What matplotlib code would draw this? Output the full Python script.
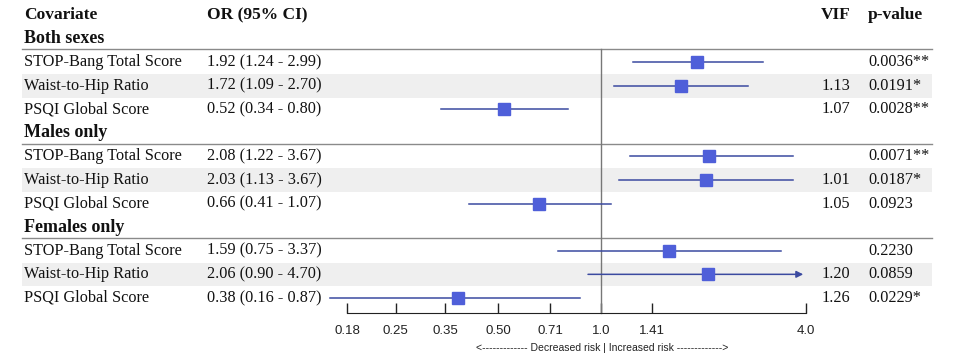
import numpy as np
import matplotlib
matplotlib.use('Agg')
from matplotlib import pyplot as plt
from matplotlib.transforms import blended_transform_factory

groups = ['Both sexes', 'Males only', 'Females only']
covariates = ['STOP-Bang Total Score', 'Waist-to-Hip Ratio', 'PSQI Global Score']
odds = [1.92, 1.72, 0.52, 2.08, 2.03, 0.66, 1.59, 2.06, 0.38]
lower = [1.24, 1.09, 0.34, 1.22, 1.13, 0.41, 0.75, 0.90, 0.16]
upper = [2.99, 2.70, 0.80, 3.67, 3.67, 1.07, 3.37, 4.70, 0.87]
vif = ['', '1.13', '1.07', '', '1.01', '1.05', '', '1.20', '1.26']
pvals = ['0.0036**', '0.0191*', '0.0028**', '0.0071**', '0.0187*', '0.0923',
         '0.2230', '0.0859', '0.0229*']
ticks = [0.18, 0.25, 0.35, 0.50, 0.71, 1.0, 1.41, 4.0]
tick_labels = ['0.18', '0.25', '0.35', '0.50', '0.71', '1.0', '1.41', '4.0']

W, H = 956, 355
fig = plt.figure(figsize=(W / 100, H / 100), dpi=100)
# axes spans the 0.18..4.0 part of the x axis, bottom spine is the axis line
x0, x1 = 347, 806
ax = fig.add_axes([x0 / W, 42 / H, (x1 - x0) / W, 313 / H])
ax.set_xscale('log')
ax.set_xlim(0.18, 4.0)
ax.set_ylim(12.64, -0.636)
for s in ['top', 'left', 'right']:
    ax.spines[s].set_visible(False)
ax.spines['bottom'].set_color('#222222')
ax.set_yticks([])
ax.set_xticks(ticks)
ax.set_xticklabels(tick_labels)
ax.xaxis.set_minor_locator(matplotlib.ticker.NullLocator())
ax.tick_params(axis='x', direction='in', length=7, width=1, pad=9,
               labelsize=9.5, colors='#222222')
for t in ax.get_xticklabels():
    t.set_family('Liberation Sans')
ax.patch.set_alpha(0)

serif = 'Liberation Serif'
tc = '#111111'
tr = blended_transform_factory(fig.transFigure, ax.transData)
fx = lambda px: px / W
band_l, band_r = (22 - x0) / (x1 - x0), (932 - x0) / (x1 - x0)

# header
ax.text(fx(24), 0, 'Covariate', transform=tr, family=serif, weight='bold',
        fontsize=12.5, va='center', color=tc)
ax.text(fx(207), 0, 'OR (95% CI)', transform=tr, family=serif, weight='bold',
        fontsize=12.5, va='center', color=tc)
ax.text(fx(851), 0, 'VIF', transform=tr, family=serif, weight='bold',
        fontsize=12.5, va='center', ha='right', color=tc)
ax.text(fx(868), 0, 'p-value', transform=tr, family=serif, weight='bold',
        fontsize=12.5, va='center', color=tc)

i = 0
for g, grp in enumerate(groups):
    gy = 1 + g * 4
    ax.text(fx(24), gy, grp, transform=tr, family=serif, weight='bold',
            fontsize=13, va='center', color=tc)
    ax.axhline(gy + 0.46, xmin=band_l, xmax=band_r, color='#8a8a8a',
               lw=1, clip_on=False, zorder=1)
    for c, cov in enumerate(covariates):
        y = gy + 1 + c
        if c == 1:
            ax.axhspan(y - 0.5, y + 0.5, xmin=band_l, xmax=band_r,
                       color='#efefef', lw=0, clip_on=False, zorder=0)
        ax.text(fx(24), y, cov, transform=tr, family=serif, fontsize=11.7,
                va='center', color=tc)
        ax.text(fx(207), y, '%.2f (%.2f - %.2f)' % (odds[i], lower[i], upper[i]),
                transform=tr, family=serif, fontsize=11.7, va='center', color=tc)
        ax.text(fx(850), y, vif[i], transform=tr, family=serif, fontsize=11.7,
                va='center', ha='right', color=tc)
        ax.text(fx(868), y, pvals[i], transform=tr, family=serif, fontsize=11.7,
                va='center', color=tc)
        hi = min(upper[i], 4.0)
        if upper[i] > 4.0:
            ax.annotate('', xy=(hi, y), xytext=(lower[i], y),
                        arrowprops=dict(arrowstyle='-|>', color='#3b4aa0',
                                        lw=1.1, mutation_scale=10),
                        zorder=3)
        else:
            ax.plot([lower[i], hi], [y, y], color='#3b4aa0', lw=1.1,
                    clip_on=False, zorder=3)
        ax.plot(odds[i], y, 's', color='#4f5fd9', markersize=9,
                clip_on=False, zorder=4)
        i += 1

ax.plot([1.0, 1.0], [1.46, 12.64], color='#777777', lw=1, zorder=2,
        clip_on=False)

fig.text(fx(602), 7 / H, '<------------- Decreased risk | Increased risk ------------->',
         family='Liberation Sans', fontsize=7.5, ha='center', va='center',
         color='#222222')

plt.savefig('out.png', dpi=100)
